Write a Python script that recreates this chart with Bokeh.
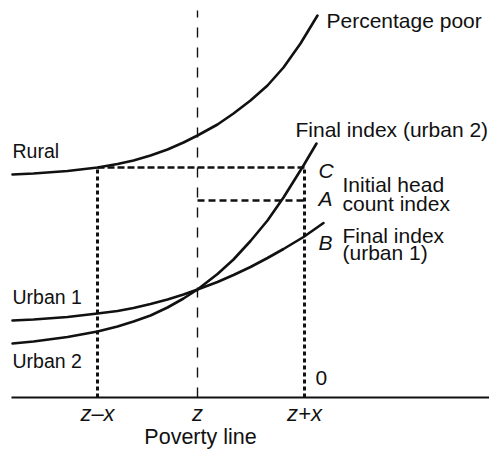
from bokeh.plotting import figure
from bokeh.models import Range1d
from bokeh.core.properties import value
from bokeh.embed import file_html
from bokeh.resources import INLINE

# ---- data (arbitrary units, y = 0 at the horizontal axis) ----
rural_x = [1, 22, 56, 86, 106, 122, 139, 156, 172, 186, 206, 222, 239, 256, 272, 289, 306]
rural_y = [223, 224, 226.5, 230, 233.5, 237, 242, 248, 255, 262, 273, 284, 297, 312, 330, 354, 382]

urban2_x = [1, 22, 56, 86, 106, 122, 139, 156, 172, 186, 206, 222, 239, 256, 272, 292, 305]
urban2_y = [54, 56, 60.5, 66, 71, 76, 82, 90, 99, 108, 123.5, 138, 156.5, 177, 200, 232, 254]

urban1_x = [1, 22, 56, 86, 106, 122, 139, 156, 172, 186, 206, 222, 239, 256, 272, 292, 312]
urban1_y = [77, 78, 80.5, 84, 86.5, 89.5, 93.5, 98, 103, 108, 115.5, 122.5, 130.5, 139.5, 148.5, 160.5, 174.5]

poverty_lines = [86, 186, 293]
poverty_labels = ["z\u2013x", "z", "z+x"]
axis_title = "Poverty line"
level_C = 230
level_A = 197
z_top = 387
axis_end = 478

# labels on the left (vertical centres)
left_text = ["Rural", "Urban 1", "Urban 2"]
left_x = [1, 1, 1]
left_y = [247, 101, 37]

# labels on the right (vertical centres)
right_text = ["Percentage poor", "Final index (urban 2)", "Initial head", "count index",
              "Final index", "(urban 1)", "0"]
right_x = [315, 284, 331, 331, 331, 331, 304]
right_y = [377, 268, 213, 194, 162, 145, 20]

point_text = ["C", "A", "B"]
point_x = [307, 307, 307]
point_y = [227, 199, 155]

FONT = "Liberation Sans"
INK = "#111111"

p = figure(width=489, height=449, output_backend="svg", toolbar_location=None,
           x_range=Range1d(-11, 478), y_range=Range1d(-52, 397),
           x_axis_location=None, y_axis_location=None, min_border=0)
p.grid.visible = False
p.outline_line_color = None
p.background_fill_color = "white"
p.border_fill_color = "white"

# horizontal axis (poverty line)
p.segment(x0=[0], y0=[0], x1=[axis_end], y1=[0], line_color=INK, line_width=2)
p.text(x=poverty_lines, y=[-16] * len(poverty_lines), text=poverty_labels,
       text_font=value(FONT), text_font_size="22px", text_font_style="italic",
       text_color=INK, text_align="center", text_baseline="middle")
p.text(x=[poverty_lines[1] + 3], y=[-39], text=[axis_title], text_font=value(FONT),
       text_font_size="21.5px", text_color=INK, text_align="center", text_baseline="middle")

# curves
for xs, ys in [(rural_x, rural_y), (urban2_x, urban2_y), (urban1_x, urban1_y)]:
    p.line(xs, ys, line_color=INK, line_width=2.6, line_cap="round", line_join="round")

# vertical dashed at z
p.segment(x0=[poverty_lines[1]], y0=[0], x1=[poverty_lines[1]], y1=[z_top],
          line_color=INK, line_width=1.4, line_dash="10 10")
# vertical dotted at z-x and z+x
p.segment(x0=[poverty_lines[0], poverty_lines[2]], y0=[0, 0],
          x1=[poverty_lines[0], poverty_lines[2]], y1=[level_C, level_C],
          line_color=INK, line_width=3, line_dash="4 3")
# horizontal dotted at C
p.segment(x0=[poverty_lines[0]], y0=[level_C], x1=[poverty_lines[2]], y1=[level_C],
          line_color=INK, line_width=2.6, line_dash="7 3")
# horizontal dashed at A
p.segment(x0=[poverty_lines[1]], y0=[level_A], x1=[poverty_lines[2]], y1=[level_A],
          line_color=INK, line_width=2.4, line_dash="7 4")

p.text(x=left_x, y=left_y, text=left_text, text_font=value(FONT),
       text_font_size="19.5px", text_color=INK, text_baseline="middle", text_align="left")
p.text(x=right_x, y=right_y, text=right_text, text_font=value(FONT),
       text_font_size="21px", text_color=INK, text_baseline="middle", text_align="left")
p.text(x=point_x, y=point_y, text=point_text, text_font=value(FONT),
       text_font_size="21px", text_font_style="italic", text_color=INK,
       text_baseline="middle", text_align="left")

open("out.html", "w").write(file_html(p, INLINE))
